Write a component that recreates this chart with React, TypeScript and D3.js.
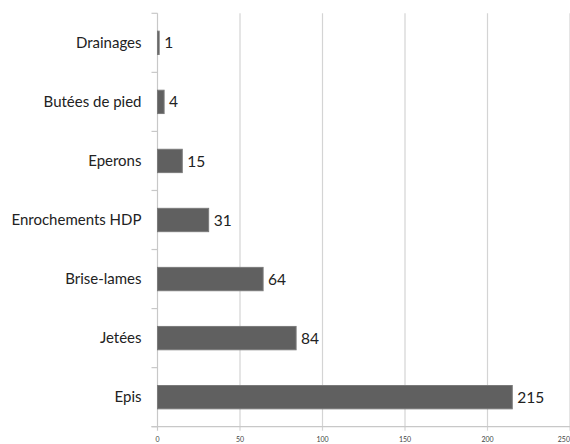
import React from "react";
import * as d3 from "d3";

const categories = ["Drainages", "Butées de pied", "Eperons", "Enrochements HDP", "Brise-lames", "Jetées", "Epis"];
const values = [1, 4, 15, 31, 64, 84, 215];
const xTicks = [0, 50, 100, 150, 200, 250];

const W = 570;
const H = 444;
const left = 157.5;
const right = 570;
const top = 13.3;
const bottom = 426.7;
const FONT = "Lato, 'Open Sans', sans-serif";

export default function App() {
  const x = d3.scaleLinear().domain([0, 250]).range([left, right]);
  const y = d3.scaleBand<string>().domain(categories).range([top, bottom]).paddingInner(0.605).paddingOuter(0.3025);
  const step = y.step();
  const bounds = d3.range(categories.length + 1).map((i) => top + i * step);
  return (
    <svg width={W} height={H} style={{ position: "absolute", left: 0, top: 0, background: "#fff" }}>
      <rect x={0} y={0} width={W} height={H} fill="#fff" />
      {xTicks.slice(1).map((t) => (
        <line key={t} x1={x(t)} x2={x(t)} y1={top} y2={bottom + 4} stroke="#d4d4d4" strokeWidth={1.2} />
      ))}
      <line x1={x(0)} x2={x(0)} y1={top} y2={bottom + 4} stroke="#c8c8c8" strokeWidth={1.2} />
      <line x1={left - 6} x2={right} y1={bottom} y2={bottom} stroke="#c8c8c8" strokeWidth={1.2} />
      {bounds.map((b, i) => (
        <line key={i} x1={left - 6} x2={left} y1={b} y2={b} stroke="#c8c8c8" strokeWidth={1.2} />
      ))}
      {xTicks.map((t, i) => (
        <text
          key={t}
          x={i === xTicks.length - 1 ? W : x(t)}
          y={442}
          fontSize={7}
          fill="#444"
          textAnchor={i === xTicks.length - 1 ? "end" : "middle"}
          fontFamily={FONT}
        >
          {t}
        </text>
      ))}
      {categories.map((c, i) => (
        <g key={c}>
          <rect
            x={x(0)}
            y={y(c)!}
            width={x(values[i]) - x(0)}
            height={y.bandwidth()}
            fill="#606060"
            stroke="#7a7a7a"
            strokeWidth={1}
          />
          <text
            x={141.5}
            y={y(c)! + y.bandwidth() / 2}
            dy="0.35em"
            textAnchor="end"
            fontSize={15}
            fill="#222"
            fontFamily={FONT}
          >
            {c}
          </text>
          <text
            x={x(values[i]) + 5}
            y={y(c)! + y.bandwidth() / 2}
            dy="0.36em"
            fontSize={15.5}
            fill="#222"
            fontFamily={FONT}
          >
            {values[i]}
          </text>
        </g>
      ))}
    </svg>
  );
}
